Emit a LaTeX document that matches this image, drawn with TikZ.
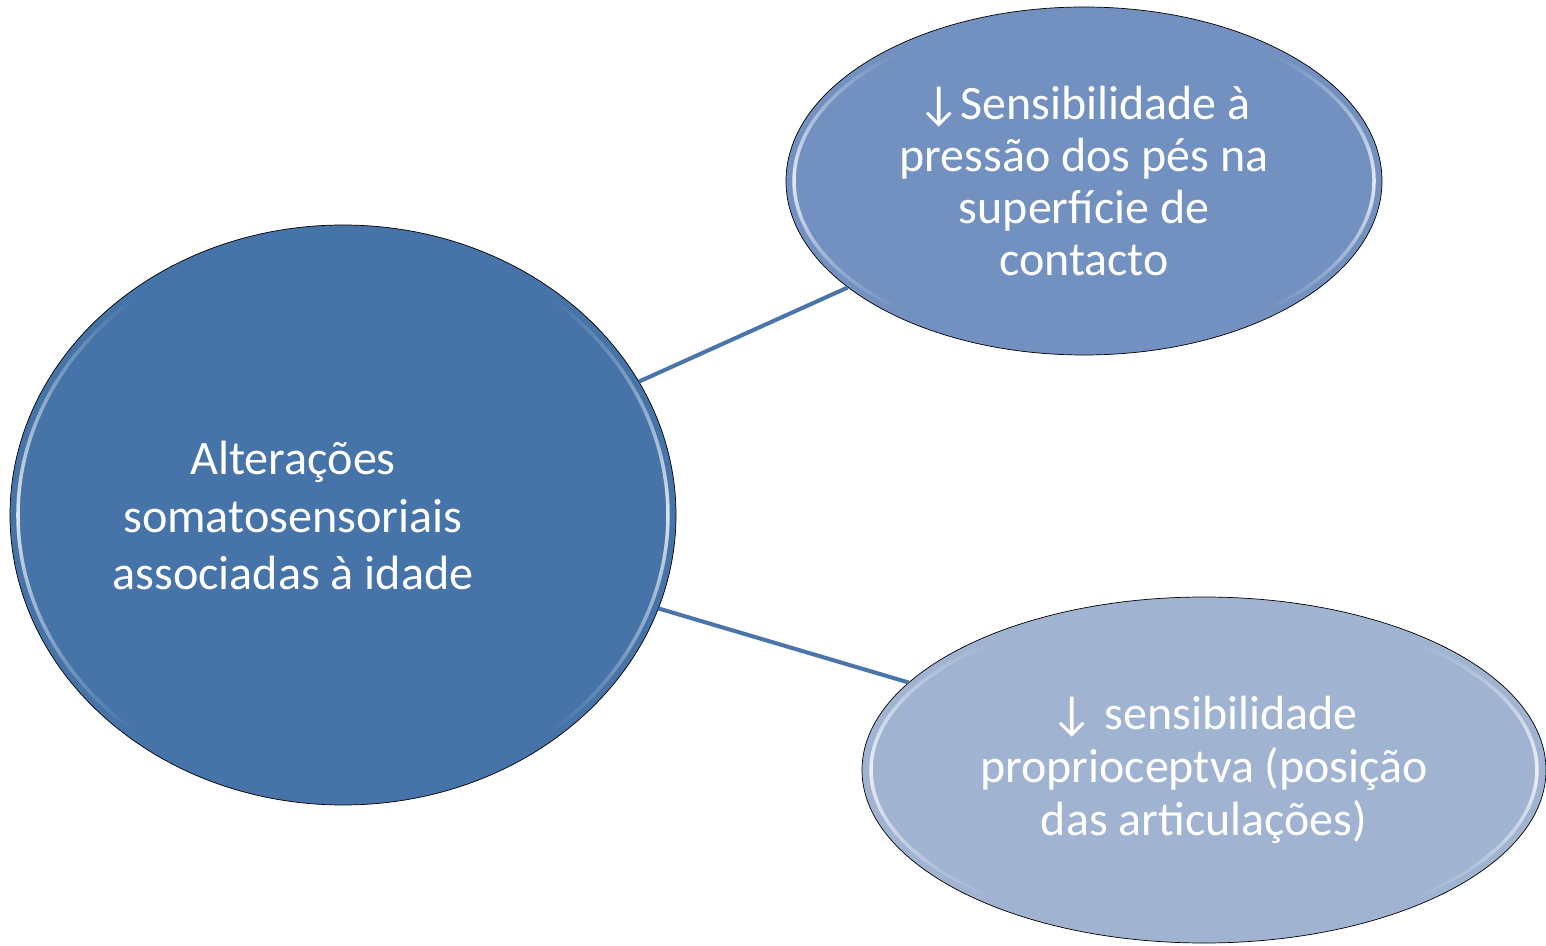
\documentclass[tikz,border=0pt]{standalone}
\usepackage{fontspec}
\setmainfont{Carlito}
\usepackage{tikz}
\usetikzlibrary{shapes.geometric, positioning, fadings}
\definecolor{maincol}{RGB}{70,116,168}
\definecolor{topcol}{RGB}{114,145,192}
\definecolor{lowcol}{RGB}{160,180,210}
\definecolor{linkcol}{RGB}{74,116,170}
\tikzfading[name=midglow, top color=transparent!100, bottom color=transparent!100, middle color=transparent!0]
\tikzstyle{bubble}=[ellipse, draw=black, thin, inner sep=0pt, text=white, align=center]
\tikzstyle{glow}=[white, line width=2pt, opacity=0.8, path fading=midglow]
\tikzstyle{link}=[draw=linkcol, line width=2.3pt]

\begin{document}
\begin{tikzpicture}
    \useasboundingbox (0,0) rectangle (30.92,-18.92);

    % Centre:
    \node[bubble, fill=maincol, minimum width=13.32cm, minimum height=11.6cm, font=\fontsize{27.4pt}{32.7pt}\selectfont] (idade) at (6.86,-10.3) {\begin{tabular}{@{}c@{}}\rule{0pt}{1.04cm}Alterações\\ somatosensoriais\\ associadas à idade\end{tabular}\hspace{2cm}};

    % Branches:
    \node[bubble, fill=topcol, minimum width=11.92cm, minimum height=6.96cm, font=\fontsize{27.3pt}{29.7pt}\selectfont] (pressao) [right of=idade, xshift=13.82cm, yshift=6.68cm] {↓Sensibilidade à\\ pressão dos pés na\\ superfície de\\ contacto};
    \node[bubble, fill=lowcol, minimum width=13.68cm, minimum height=6.92cm, font=\fontsize{27.3pt}{30.2pt}\selectfont] (proprio) [right of=idade, xshift=16.22cm, yshift=-5.1cm] {↓ sensibilidade\\ proprioceptva (posição\\ das articulações)};

    % Bevel:
    \draw[glow] (idade.center) ++(130:6.5cm and 5.64cm) arc[start angle=130, end angle=230, x radius=6.5cm, y radius=5.64cm];
    \draw[glow] (idade.center) ++(-50:6.5cm and 5.64cm) arc[start angle=-50, end angle=50, x radius=6.5cm, y radius=5.64cm];
    \draw[glow] (pressao.center) ++(130:5.8cm and 3.32cm) arc[start angle=130, end angle=230, x radius=5.8cm, y radius=3.32cm];
    \draw[glow] (pressao.center) ++(-50:5.8cm and 3.32cm) arc[start angle=-50, end angle=50, x radius=5.8cm, y radius=3.32cm];
    \draw[glow] (proprio.center) ++(130:6.66cm and 3.3cm) arc[start angle=130, end angle=230, x radius=6.66cm, y radius=3.3cm];
    \draw[glow] (proprio.center) ++(-50:6.66cm and 3.3cm) arc[start angle=-50, end angle=50, x radius=6.66cm, y radius=3.3cm];

    % Links:
    \draw[link] (idade) -- (pressao);
    \draw[link] (idade) -- (proprio);
\end{tikzpicture}
\end{document}
